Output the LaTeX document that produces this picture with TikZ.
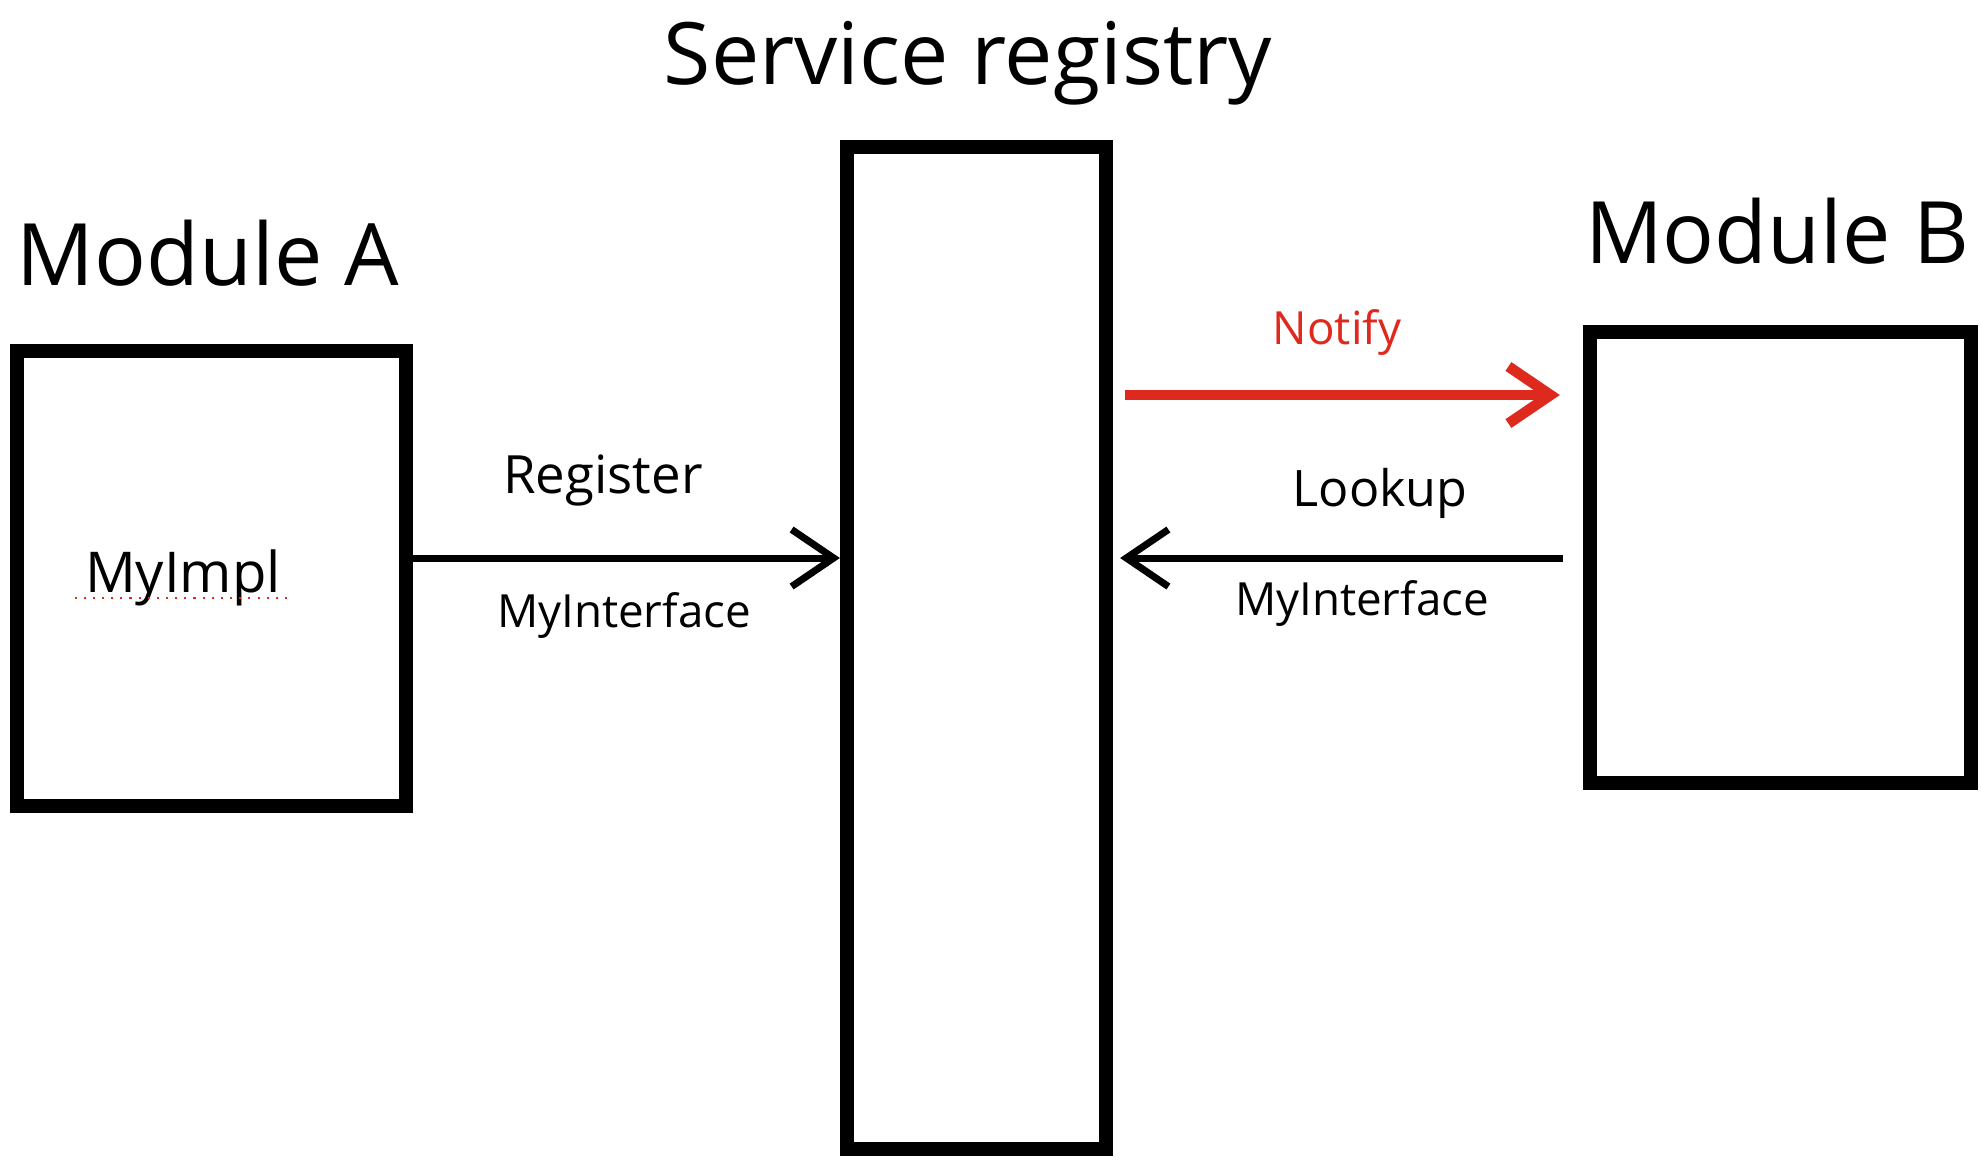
\documentclass[tikz,border=0pt]{standalone}
\usepackage{fontspec}
\setmainfont{Open Sans}
\usepackage{xcolor}
\usetikzlibrary{arrows.meta}
\definecolor{notifyred}{RGB}{222,42,30}

\begin{document}
\begin{tikzpicture}[x=0.01cm, y=-0.01cm,
  box/.style={draw, line width=4pt, inner sep=0pt},
  title/.style={font=\fontsize{24.5}{28}\selectfont},
  lbl/.style={font=\fontsize{13}{16}\selectfont},
  arr/.style={-{Straight Barb[length=0.42cm, width=0.57cm]}, line width=2pt}]
\useasboundingbox (0,0) rectangle (1981,1162);

\node[box, minimum width=3.89cm, minimum height=4.55cm] (modA) at (211.5,578.5) {};
\node[box, minimum width=2.59cm, minimum height=10.02cm] (registry) at (976.5,648) {};
\node[box, minimum width=3.81cm, minimum height=4.51cm] (modB) at (1780.5,557.5) {};

\node[title] (titleA) at (208,253) {Module A};
\node[title] (titleReg) at (968,63) {Service registry};
\node[title] (titleB) at (1777,231) {Module B};

\node[font=\fontsize{16}{19}\selectfont] (impl) at (183,578) {MyImpl};
\draw[notifyred, dotted, line width=0.6pt] ([xshift=0.02cm, yshift=-0.05cm]impl.base west) -- ([xshift=-0.05cm, yshift=-0.05cm]impl.base east);

\draw[arr] (modA.east |- 0,558) -- (registry.west |- 0,558);
\node[lbl, font=\fontsize{15}{18}\selectfont] (register) at (603,480) {Register};
\node[lbl] (ifaceA) at (624,615) {MyInterface};

\draw[arr, notifyred, line width=3pt, shorten <=0.12cm, shorten >=0.23cm] (registry.east |- 0,395) -- (modB.west |- 0,395);
\node[lbl, text=notifyred] (notify) at (1337,332) {Notify};

\draw[arr, shorten <=0.2cm, shorten >=0.07cm] (modB.west |- 0,558) -- (registry.east |- 0,558);
\node[lbl, font=\fontsize{14.3}{17}\selectfont] (lookup) at (1380,493) {Lookup};
\node[lbl] (ifaceB) at (1362,603) {MyInterface};
\end{tikzpicture}
\end{document}
